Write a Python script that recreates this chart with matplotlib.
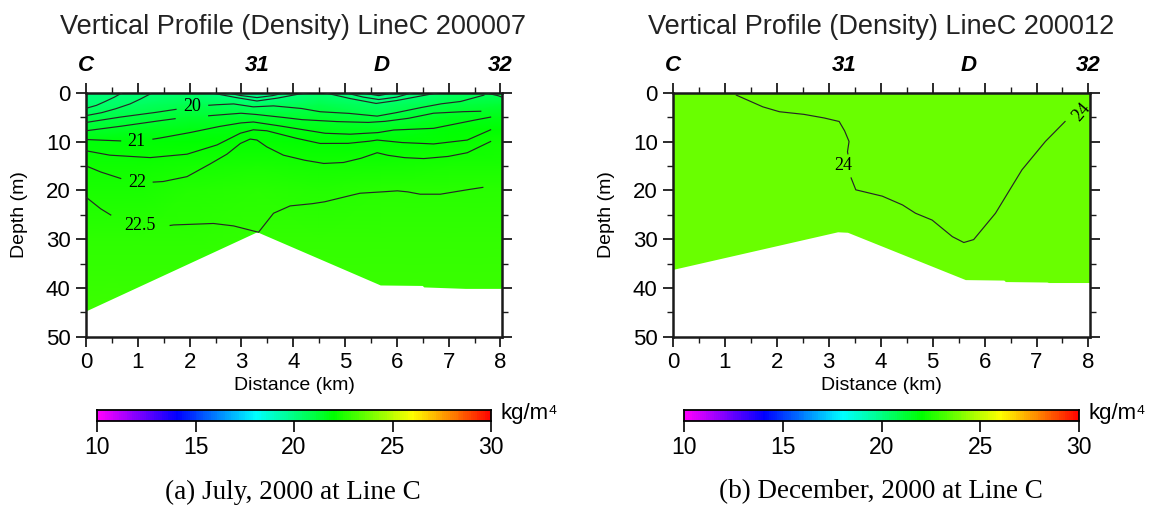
import numpy as np
import matplotlib
matplotlib.use('Agg')
import matplotlib.pyplot as plt
from matplotlib.colors import LinearSegmentedColormap, Normalize
from matplotlib.ticker import MultipleLocator

plt.rcParams['font.family'] = ['Liberation Sans', 'DejaVu Sans']

# stations along Line C (km)
station_names = ['C', '31', 'D', '32']
station_km = [0.0, 3.3, 5.7, 8.0]

# sea bottom along the section (km, m)
jul_bottom_km = [0.0, 3.3, 5.68, 6.49, 6.52, 7.32, 8.03]
jul_bottom_m = [44.7, 28.5, 39.4, 39.5, 39.8, 40.1, 40.1]
dec_bottom_km = [0.0, 3.17, 3.36, 5.63, 6.37, 6.4, 7.2, 7.23, 8.03]
dec_bottom_m = [36.2, 28.5, 28.6, 38.3, 38.4, 38.7, 38.8, 38.9, 38.9]

# July density read on a coarse grid (kg/m^3 - 1000)
jul_grid_km = [0.0, 1.0, 2.0, 3.3, 4.5, 5.7, 7.0, 8.03]
jul_grid_m = [0, 2.5, 5, 7.5, 10, 15, 20, 30, 45]
jul_density = [
    [20.0, 20.1, 20.3, 19.6, 20.3, 19.7, 20.4, 20.6],
    [20.3, 20.5, 20.8, 20.4, 20.8, 20.4, 21.0, 21.2],
    [20.8, 21.0, 21.3, 21.2, 21.3, 21.0, 21.5, 21.7],
    [21.3, 21.5, 21.7, 21.8, 21.7, 21.5, 21.9, 22.0],
    [21.8, 21.9, 22.0, 22.1, 22.0, 21.9, 22.1, 22.2],
    [22.2, 22.2, 22.3, 22.4, 22.3, 22.3, 22.4, 22.4],
    [22.4, 22.4, 22.5, 22.6, 22.5, 22.6, 22.6, 22.6],
    [22.7, 22.7, 22.7, 22.8, 22.8, 22.8, 22.8, 22.8],
    [22.9, 22.9, 22.9, 22.9, 22.9, 22.9, 22.9, 22.9],
]
dec_density = 23.6

# July isopycnals traced from the section: (km, depth)
jul_lines = [
    ([0, 0.2, 0.37, 0.55, 0.7], [3.2, 2.6, 1.8, 0.9, 0.0]),
    ([0, 0.3, 0.57, 0.85, 1.05, 1.25], [4.7, 4.1, 3.3, 2.3, 1.3, 0.2]),
    ([0, 0.59, 1.24, 1.69, 2.01, 2.46, 2.85, 3.23, 3.62, 4.14, 4.52, 5.04, 5.43, 5.62, 5.94, 6.39, 6.84, 7.23, 7.68],
     [6.1, 5.1, 4.2, 3.5, 2.9, 2.5, 2.3, 2.9, 2.7, 3.2, 3.9, 4.2, 4.6, 4.8, 4.2, 3.2, 2.3, 1.8, 0.5]),
    ([0, 0.59, 1.24, 1.88, 2.53, 2.98, 3.23, 3.68, 4.14, 4.78, 5.43, 5.75, 6.2, 6.71, 7.23, 7.62],
     [7.8, 7.0, 6.0, 5.1, 4.6, 4.2, 4.4, 4.9, 5.5, 5.9, 6.1, 5.9, 5.3, 4.2, 3.9, 3.8]),
    ([0, 0.46, 0.98, 1.37, 1.95, 2.53, 2.98, 3.23, 3.62, 4.14, 4.59, 5.1, 5.62, 5.94, 6.71, 7.36, 7.81],
     [9.6, 9.8, 10.0, 9.4, 8.3, 7.0, 6.2, 6.0, 6.6, 7.5, 8.3, 8.5, 8.2, 7.65, 7.3, 5.9, 5.0]),
    ([0, 0.46, 1.24, 1.95, 2.53, 2.98, 3.23, 3.49, 4.0, 4.52, 5.04, 5.43, 5.62, 6.07, 6.71, 7.36, 7.81],
     [11.9, 12.8, 13.3, 12.6, 10.7, 8.3, 7.6, 7.8, 9.2, 10.4, 10.4, 10.0, 9.7, 10.2, 10.5, 9.7, 7.6]),
    ([0, 0.27, 0.59, 0.91, 1.17, 1.49, 1.95, 2.33, 2.72, 2.98, 3.17, 3.3, 3.49, 3.81, 4.2, 4.59, 4.97, 5.29, 5.62,
      5.81, 6.13, 6.52, 6.97, 7.36, 7.81],
     [15.0, 16.2, 17.3, 18.4, 18.4, 18.2, 17.2, 15.0, 12.6, 10.4, 9.5, 9.7, 11.1, 12.8, 13.8, 14.5, 14.3, 13.5, 12.3,
      12.8, 13.3, 13.5, 13.1, 12.3, 10.0]),
    ([0, 0.27, 0.53, 0.82, 1.1, 1.43, 1.69, 2.2, 2.46, 2.85, 3.33, 3.62, 3.94, 4.33, 4.59, 4.97, 5.29, 5.62, 6.0,
      6.2, 6.45, 6.84, 7.23, 7.66],
     [21.4, 23.7, 25.4, 26.8, 27.4, 27.5, 27.1, 26.9, 26.8, 27.3, 28.6, 24.7, 23.2, 22.8, 22.4, 21.4, 20.6, 20.4,
      20.1, 20.3, 20.8, 20.8, 20.1, 19.4]),
    ([2.4, 2.9, 3.3, 3.7, 4.1, 4.3], [0.0, 1.0, 1.7, 1.1, 0.3, 0.0]),
    ([2.7, 3.0, 3.3, 3.6, 3.85], [0.0, 0.6, 1.0, 0.6, 0.0]),
    ([4.6, 5.1, 5.6, 6.0, 6.5, 6.8], [0.0, 1.2, 2.2, 1.6, 0.6, 0.0]),
    ([5.0, 5.35, 5.65, 6.0, 6.3], [0.0, 0.9, 1.4, 0.9, 0.0]),
    ([5.3, 5.65, 5.95], [0.0, 0.6, 0.0]),
    ([7.7, 7.95, 8.03], [0.0, 0.6, 0.9]),
]
# contour labels: text, km, depth, rotation
jul_labels = [('20', 2.05, 2.9, 0), ('21', 0.98, 10.0, 0), ('22', 0.98, 18.5, 0), ('22.5', 1.05, 27.3, 0)]

# December 24 isopycnal
dec_line_km = [1.22, 1.41, 1.73, 2.05, 2.5, 2.88, 3.2, 3.3, 3.39, 3.36, 3.39, 3.42, 3.52, 4.03, 4.42, 4.67, 4.99,
               5.38, 5.6, 5.79, 6.21, 6.72, 7.17, 7.55, 7.87]
dec_line_m = [0.5, 1.4, 2.9, 3.9, 4.4, 5.1, 5.9, 7.7, 10.0, 12.1, 13.8, 17.2, 19.9, 21.2, 23.0, 24.7, 26.1,
              29.5, 30.7, 30.1, 24.7, 15.8, 10.0, 5.9, 3.9]
dec_labels = [('24', 3.27, 15.0, 0), ('24', 7.86, 3.9, 50)]

titles = ['Vertical Profile (Density) LineC 200007', 'Vertical Profile (Density) LineC 200012']
captions = ['(a) July, 2000 at Line C', '(b) December, 2000 at Line C']
cbar_ticks = [10, 15, 20, 25, 30]

cmap = LinearSegmentedColormap.from_list(
    'gmt_rainbow', [(0.0, '#ff00ff'), (0.2, '#0000ff'), (0.4, '#00ffff'),
                    (0.6, '#00ff00'), (0.8, '#ffff00'), (1.0, '#ff0000')])
norm = Normalize(10, 30)

W, H = 1157, 511
fig = plt.figure(figsize=(W / 100, H / 100), dpi=100)

panels = [
    dict(left=86, right=502, title_x=293),
    dict(left=673, right=1090, title_x=881),
]


def draw_line(ax, xs, ds, labels):
    xs = np.array(xs, float)
    ds = np.array(ds, float)
    # densify so label gaps are clean
    t = np.linspace(0, len(xs) - 1, (len(xs) - 1) * 20 + 1)
    xi = np.interp(t, np.arange(len(xs)), xs)
    di = np.interp(t, np.arange(len(ds)), ds)
    for txt, lx, ld, rot in labels:
        hw = 0.13 * len(txt) + 0.05
        near = (np.abs(xi - lx) < hw) & (np.abs(di - ld) < 2.4)
        xi[near] = np.nan
    ax.plot(xi, di, color='#262626', lw=0.85, zorder=3)


for i, p in enumerate(panels):
    ax = fig.add_axes([p['left'] / W, 1 - 336.7 / H, (p['right'] - p['left']) / W, 244 / H])
    ax.set_xlim(0, 8.03)
    ax.set_ylim(50, 0)

    if i == 0:
        ax.pcolormesh(jul_grid_km, jul_grid_m, np.array(jul_density), cmap=cmap, norm=norm,
                      shading='gouraud', zorder=1)
        ax.fill_between(jul_bottom_km, jul_bottom_m, 50, color='white', lw=0, zorder=2)
        for xs, ds in jul_lines:
            draw_line(ax, xs, ds, jul_labels)
        labels = jul_labels
    else:
        ax.fill_between(dec_bottom_km, 0, dec_bottom_m, color=cmap(norm(dec_density)), lw=0, zorder=1)
        draw_line(ax, dec_line_km, dec_line_m, dec_labels)
        labels = dec_labels

    for txt, lx, ld, rot in labels:
        ax.text(lx, ld, txt, family='Liberation Serif', fontsize=13, ha='center', va='center',
                rotation=rot, zorder=4)

    for s in ax.spines.values():
        s.set_linewidth(1.8)
        s.set_color('#1a1a1a')
    ax.xaxis.set_major_locator(MultipleLocator(1))
    ax.xaxis.set_minor_locator(MultipleLocator(0.5))
    ax.yaxis.set_major_locator(MultipleLocator(10))
    ax.yaxis.set_minor_locator(MultipleLocator(5))
    ax.tick_params(which='both', direction='out', top=True, right=True, color='#1a1a1a')
    ax.tick_params(which='major', length=7, width=1.3, labelsize=16, pad=4)
    ax.tick_params(which='minor', length=4, width=1.0)
    ax.set_ylabel('Depth (m)', fontsize=14)
    ax.set_xlabel('Distance (km)', fontsize=14)
    ax.yaxis.set_label_coords(-0.14, 0.5)
    ax.xaxis.set_label_coords(0.5, -0.165)

    for name, km in zip(station_names, station_km):
        ax.text(km, 1.11, name, transform=ax.get_xaxis_transform(), ha='center', va='center',
                fontsize=16, fontweight='bold', fontstyle='italic')

    fig.text(p['title_x'] / W, 1 - 27 / H, titles[i], ha='center', va='center', fontsize=19.5, color='#222222')
    fig.text(p['title_x'] / W, 1 - 492 / H, captions[i], ha='center', va='center', fontsize=19.5,
             family='Liberation Serif')

    # colour scale
    cax = fig.add_axes([(p['left'] + 11) / W, 1 - 421 / H, (p['right'] - p['left'] - 22) / W, 11 / H])
    vals = np.linspace(10, 30, 201)
    cax.pcolormesh(vals, [0, 1], np.vstack([vals[:-1], vals[:-1]])[:1], cmap=cmap, norm=norm)
    cax.set_xlim(10, 30)
    cax.set_ylim(0, 1)
    cax.set_yticks([])
    cax.set_xticks(cbar_ticks)
    cax.tick_params(direction='out', length=8, width=1.2, labelsize=16.5, pad=3)
    for s in cax.spines.values():
        s.set_linewidth(1.3)
    fig.text((p['right'] - 1) / W, 1 - 413 / H, 'kg/m⁴', ha='left', va='center', fontsize=16)

fig.savefig('out.png', dpi=100)
